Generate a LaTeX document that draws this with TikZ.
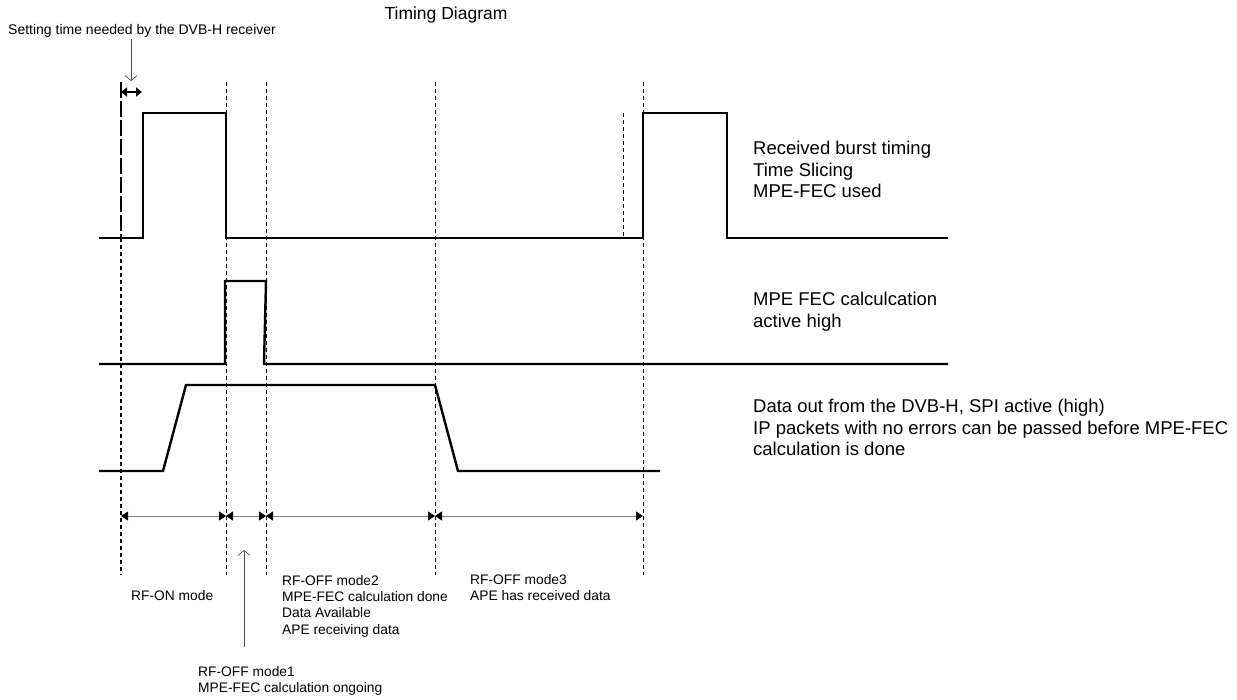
\documentclass[tikz,border=0pt]{standalone}
\usepackage{fontspec}
\setmainfont{Liberation Sans}
\usetikzlibrary{arrows.meta,calc,positioning}

\begin{document}
\begin{tikzpicture}[x=1pt,y=-1pt,>=Stealth,
  sig/.style={line width=2.4pt,line join=miter},
  guide/.style={line width=0.9pt,dash pattern=on 4pt off 3pt},
  dim/.style={gray,line width=0.9pt,{Triangle[length=7pt,width=9pt,color=black]}-{Triangle[length=7pt,width=9pt,color=black]}},
  ptr/.style={black!70,line width=0.7pt,-{Straight Barb[length=5pt,width=12pt]}},
  lbl/.style={anchor=north west,inner sep=0pt,align=left,font=\fontsize{18.5}{21.5}\selectfont},
  note/.style={anchor=north west,inner sep=0pt,align=left,font=\fontsize{13.8}{16.3}\selectfont}]
\useasboundingbox (0,0) rectangle (1237,699);
\node[font=\fontsize{17.5}{20}\selectfont] (title) at (446,15) {Timing Diagram};
\node[anchor=north west,inner sep=0pt,font=\fontsize{14}{16}\selectfont] (settxt) at (8,24) {Setting time needed by the DVB-H receiver};
\foreach \x/\n in {226/b,266/c,435/d,643/e}{
  \draw[guide] (\x,82)--(\x,575);
  \coordinate (m\n) at (\x,516);
}
\coordinate (ma) at (121,516);
\draw[guide,line width=1.5pt,dash pattern=on 16pt off 3pt] (121,82)--(121,238);
\draw[guide,line width=1.3pt] (121,238)--(121,575);
\draw[guide] (623,113)--(623,238);
\draw[sig] (99,238)-|(143,113)-|(226,238)-|(643,113)-|(727,238)--(948,238);
\draw[sig] (99,364)-|(225,281)--(266,281)--(264,364)--(948,364);
\draw[sig] (99,471)--(163,471)--(186,385)--(435,385)--(458,471)--(660,471);
\foreach \a/\b in {ma/mb,mb/mc,mc/md,md/me}
  \draw[dim] (\a)--(\b);
\coordinate (st0) at (121,92);
\coordinate (st1) at (142,92);
\coordinate (sthead) at (131,81);
\draw[line width=1.6pt,{Triangle[length=6pt,width=9pt]}-{Triangle[length=6pt,width=9pt]}] (st0)--(st1);
\draw[ptr] ($(settxt.south -| sthead)+(0,2)$) -- (sthead);
\node[lbl] (rx) at (753,141) {Received burst timing\\Time Slicing\\MPE-FEC used};
\node[lbl] (fec) at (753,292) {MPE FEC calculcation\\active high};
\node[lbl] (spi) at (753,399) {Data out from the DVB-H, SPI active (high)\\IP packets with no errors can be passed before MPE-FEC\\calculation is done};
\node[note] (on) at (131,590) {RF-ON mode};
\node[note] (off2) at (282,575) {RF-OFF mode2\\MPE-FEC calculation done\\Data Available\\APE receiving data};
\node[note] (off3) at (470,574) {RF-OFF mode3\\APE has received data};
\node[note] (off1) at (198,666) {RF-OFF mode1\\MPE-FEC calculation ongoing};
\coordinate (m1tip) at (244,550);
\draw[ptr] ($(off1.north -| m1tip)+(0,-19)$) -- (m1tip);
\end{tikzpicture}
\end{document}
